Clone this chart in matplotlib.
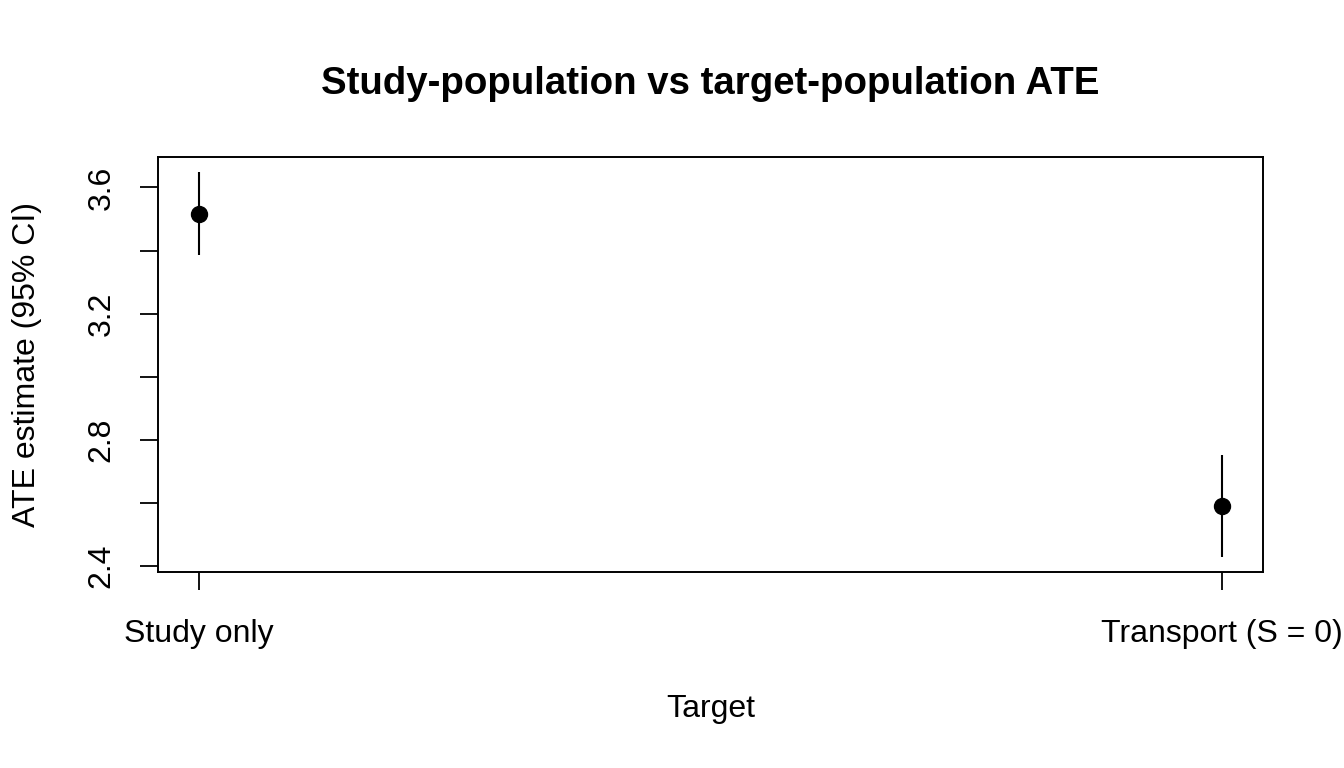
import matplotlib.pyplot as plt

# ATE estimates with 95% CI
targets = ["Study only", "Transport (S = 0)"]
ate = [3.517, 2.590]
ci_low = [3.387, 2.429]
ci_high = [3.648, 2.752]

plt.rcParams["font.family"] = ["Liberation Sans", "DejaVu Sans"]

fig = plt.figure(figsize=(13.44, 7.68), dpi=100)
ax = fig.add_axes([0.1176, 0.2552, 0.8221, 0.5404])

x = list(range(1, len(targets) + 1))
for xi, lo, hi in zip(x, ci_low, ci_high):
    ax.plot([xi, xi], [lo, hi], color="black", lw=1.5, solid_capstyle="butt")
ax.plot(x, ate, "o", color="black", markersize=11.5)

# R-style 4% axis extension
span = max(ci_high) - min(ci_low)
ax.set_ylim(min(ci_low) - 0.04 * span, max(ci_high) + 0.04 * span)
ax.set_xlim(1 - 0.04, len(targets) + 0.04)

yt = [2.4, 2.6, 2.8, 3.0, 3.2, 3.4, 3.6]
ax.set_yticks(yt)
ax.set_yticklabels(["2.4", "", "2.8", "", "3.2", "", "3.6"], rotation=90, va="center")
ax.set_xticks(x)
ax.set_xticklabels(targets)

ax.tick_params(axis="both", length=13, width=1.3, labelsize=23, direction="out")
ax.tick_params(axis="y", pad=17)
ax.tick_params(axis="x", pad=21)
for sp in ax.spines.values():
    sp.set_linewidth(1.4)

ax.set_xlabel("Target", fontsize=23, labelpad=32)
ax.set_ylabel("ATE estimate (95% CI)", fontsize=23, labelpad=32)
ax.set_title("Study-population vs target-population ATE", fontsize=27.6,
             fontweight="bold", pad=45)

fig.savefig("out.png", dpi=100)
